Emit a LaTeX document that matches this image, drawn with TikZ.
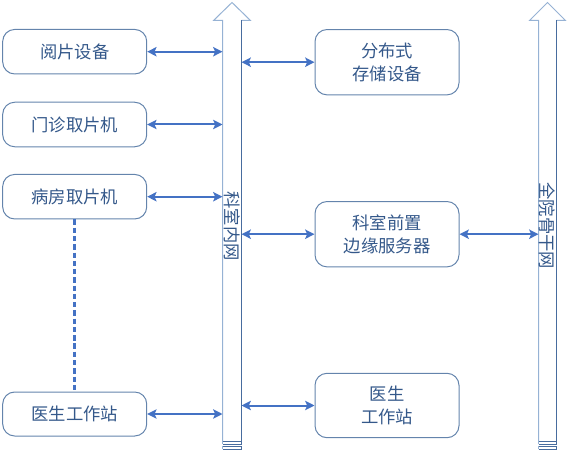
\documentclass[tikz,border=0pt]{standalone}
\usepackage{fontspec}
\newfontfamily\cjk{Noto Sans CJK SC}
\usetikzlibrary{arrows.meta}

\definecolor{boxline}{RGB}{100,132,172}
\definecolor{boxtext}{RGB}{52,88,138}
\definecolor{linkblue}{RGB}{68,114,196}
\definecolor{buslight}{RGB}{150,178,212}
\definecolor{busdark}{RGB}{72,108,158}

\tikzset{every picture/.style={line width=0.75pt}}
\tikzset{
  devbox/.style={draw=boxline, rounded corners=9pt, minimum width=108pt, align=center,
    text=boxtext, font=\cjk\fontsize{13}{17.25}\selectfont, inner sep=0.75pt},
  link/.style={draw=linkblue, line width=1.5pt, {Stealth[length=7pt,width=7pt,inset=1.5pt]}-{Stealth[length=7pt,width=7pt,inset=1.5pt]}},
  buslabel/.style={rotate=-90, text=boxtext, font=\cjk\fontsize{13}{15}\selectfont, inner sep=0pt}
}

\begin{document}
\begin{tikzpicture}[x=0.75pt,y=0.75pt,yscale=-1,xscale=1]
\useasboundingbox (0,0) rectangle (570,452);

%Shape: Up Arrow (科室内网) [body and head]
\draw [buslight] (222.5,441.3) -- (222.5,20.5) -- (213.5,20.5) -- (232,2.5) -- (250.5,20.5) -- (241.5,20.5) ;
\draw [busdark] (241.5,20.5) -- (241.5,441.3) -- (222.5,441.3) ;
%Shape: Stripes
\draw [busdark] (222.5,444) -- (241.5,444) (222.5,446.3) -- (241.5,446.3) (222.5,449) -- (241.5,449) ;
\draw [buslight] (222.5,441.3) -- (222.5,444) (222.5,446.3) -- (222.5,449) ;
\draw [busdark] (241.5,441.3) -- (241.5,444) (241.5,446.3) -- (241.5,449) ;
\coordinate (lanL) at (222.5,0) ;
\coordinate (lanR) at (241.5,0) ;

%Shape: Up Arrow (全院骨干网) [body and head]
\draw [buslight] (538.5,441.3) -- (538.5,20.5) -- (529.5,20.5) -- (547.5,2.5) -- (565.5,20.5) -- (556.5,20.5) ;
\draw [busdark] (556.5,20.5) -- (556.5,441.3) -- (538.5,441.3) ;
%Shape: Stripes
\draw [busdark] (538.5,444) -- (556.5,444) (538.5,446.3) -- (556.5,446.3) (538.5,449) -- (556.5,449) ;
\draw [buslight] (538.5,441.3) -- (538.5,444) (538.5,446.3) -- (538.5,449) ;
\draw [busdark] (556.5,441.3) -- (556.5,444) (556.5,446.3) -- (556.5,449) ;
\coordinate (wanL) at (538.5,0) ;

% Text Node
\node [buslabel] (lanText) at (232,226) {科室内网};
% Text Node
\node [buslabel] (wanText) at (547.5,226) {全院骨干网};

%Shape: Rounded Rectangle [left column]
\node [devbox, minimum height=33.4pt] (viewer) at (74.7,51.7) {阅片设备};
\node [devbox, minimum height=33.4pt] (clinic) at (74.7,124.5) {门诊取片机};
\node [devbox, minimum height=33.4pt] (ward) at (74.7,196.7) {病房取片机};
\node [devbox, minimum height=33pt] (docL) at (74.7,414) {医生工作站};

%Shape: Rounded Rectangle [right column]
\node [devbox, minimum height=49pt] (storage) at (387,62.2) {分布式\\存储设备};
\node [devbox, minimum height=49pt] (edge) at (387,234.2) {科室前置\\边缘服务器};
\node [devbox, minimum height=48.3pt] (docR) at (387,405.5) {医生\\工作站};

%Straight Lines [links to 科室内网]
\draw [link] (viewer.east) -- (viewer.east -| lanL) ;
\draw [link] (clinic.east) -- (clinic.east -| lanL) ;
\draw [link] (ward.east) -- (ward.east -| lanL) ;
\draw [link] (docL.east) -- (docL.east -| lanL) ;
\draw [link] (storage.west -| lanR) -- (storage.west) ;
\draw [link] (edge.west -| lanR) -- (edge.west) ;
\draw [link] (docR.west -| lanR) -- (docR.west) ;
%Straight Lines [link to 全院骨干网]
\draw [link] (edge.east) -- (edge.east -| wanL) ;

%Straight Lines [dashed]
\draw [linkblue, line width=2pt, dash pattern=on 4pt off 2.2pt] (ward.south) -- (docL.north) ;

\end{tikzpicture}
\end{document}
